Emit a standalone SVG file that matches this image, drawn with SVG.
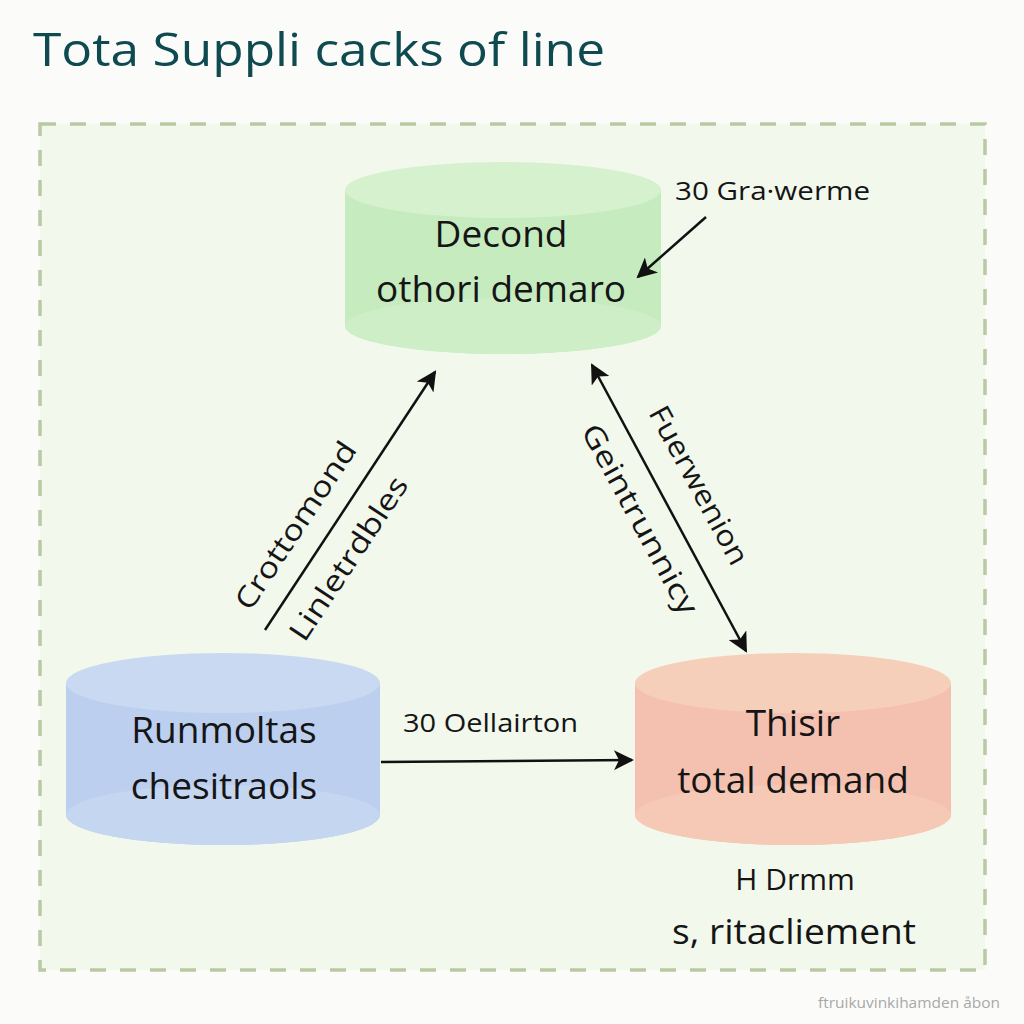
<svg xmlns="http://www.w3.org/2000/svg" width="1024" height="1024" viewBox="0 0 1024 1024">
  <defs>
    <marker id="ahb" viewBox="0 0 10 10" refX="9" refY="5" markerWidth="24" markerHeight="20" orient="auto-start-reverse" markerUnits="userSpaceOnUse">
      <path d="M0,0 L10,5 L0,10 L2.5,5 z" fill="#111"/>
    </marker>
  </defs>
  <style>
    text { font-family: "Open Sans", "Noto Sans", "Liberation Sans", sans-serif; fill: #151515; }
    .title { font-size: 46px; fill: #0f4a50; }
    .node { font-size: 37px; text-anchor: middle; }
    .lbl { font-size: 26px; }
    .rot { font-size: 29px; text-anchor: middle; }
    .conn { stroke: #111; stroke-width: 2.5; fill: none; marker-end: url(#ahb); }
    .panel { fill: #f2f8ec; stroke: #b9c9a3; stroke-width: 3.5; stroke-dasharray: 16 14; }
  </style>
  <rect width="1024" height="1024" fill="#fbfcf9"/>
  <text class="title" x="33" y="66" textLength="572" lengthAdjust="spacingAndGlyphs">Tota Suppli cacks of line</text>
  <rect class="panel" x="40" y="124" width="945" height="846"/>

  <g id="node-green">
    <path d="M345,190 L345,326 A158,28 0 0 0 661,326 L661,190 Z" fill="#c6ebbf"/>
    <ellipse cx="503" cy="326" rx="158" ry="28" fill="#cdeec6"/>
    <ellipse cx="503" cy="190" rx="158" ry="28" fill="#d6f1ce"/>
    <text class="node" x="501" y="247">Decond</text>
    <text class="node" x="501" y="302">othori demaro</text>
  </g>

  <g id="node-blue">
    <path d="M66,683 L66,815 A157,30 0 0 0 380,815 L380,683 Z" fill="#bccfee"/>
    <ellipse cx="223" cy="815" rx="157" ry="30" fill="#c5d6f1"/>
    <ellipse cx="223" cy="683" rx="157" ry="30" fill="#c9d9f2"/>
    <text class="node" x="224" y="743">Runmoltas</text>
    <text class="node" x="224" y="799">chesitraols</text>
  </g>

  <g id="node-red">
    <path d="M635,683 L635,815 A158,30 0 0 0 951,815 L951,683 Z" fill="#f4c1b0"/>
    <ellipse cx="793" cy="815" rx="158" ry="30" fill="#f5c9b6"/>
    <ellipse cx="793" cy="683" rx="158" ry="30" fill="#f6cfbb"/>
    <text class="node" x="793" y="736">Thisir</text>
    <text class="node" x="793" y="793">total demand</text>
  </g>

  <g id="connectors">
    <line class="conn" x1="381" y1="762" x2="632" y2="760"/>
    <line class="conn" x1="265" y1="630" x2="435" y2="372"/>
    <line class="conn" x1="592" y1="365" x2="746" y2="651" style="marker-start: url(#ahb)"/>
    <line class="conn" x1="706" y1="217" x2="638" y2="277"/>
  </g>

  <g id="labels">
    <text class="lbl" x="403" y="732" textLength="175" lengthAdjust="spacingAndGlyphs">30 Oellairton</text>
    <text class="lbl" x="675" y="200" textLength="195" lengthAdjust="spacingAndGlyphs">30 Gra·werme</text>
    <text class="rot" x="0" y="0" textLength="195" lengthAdjust="spacingAndGlyphs" transform="translate(304,531) rotate(-56.5)">Crottomond</text>
    <text class="rot" x="0" y="0" textLength="190" lengthAdjust="spacingAndGlyphs" transform="translate(357,564) rotate(-56.5)">Linletrdbles</text>
    <text class="rot" x="0" y="0" textLength="176" lengthAdjust="spacingAndGlyphs" transform="translate(690,490) rotate(61.5)">Fuerwenion</text>
    <text class="rot" x="0" y="0" textLength="212" lengthAdjust="spacingAndGlyphs" transform="translate(631,524) rotate(61.5)">Geintrunnicy</text>
    <text x="795" y="890" font-size="30" text-anchor="middle">H Drmm</text>
    <text x="794" y="944" font-size="34" text-anchor="middle" textLength="244" lengthAdjust="spacingAndGlyphs">s, ritacliement</text>
    <text x="909" y="1008" font-size="14" text-anchor="middle" textLength="182" lengthAdjust="spacingAndGlyphs" style="fill:#a8a8a8">ftruikuvinkihamden åbon</text>
  </g>
</svg>
